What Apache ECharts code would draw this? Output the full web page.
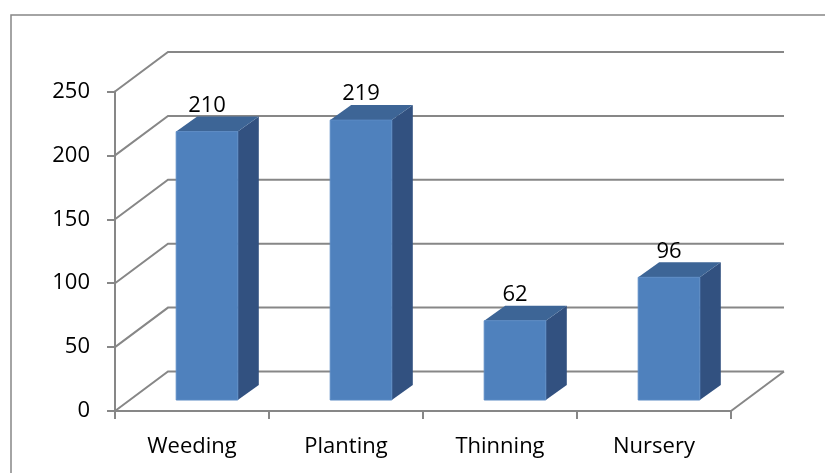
<!DOCTYPE html>
<html>
<head>
<meta charset="utf-8">
<script src="https://cdn.jsdelivr.net/npm/echarts@6/dist/echarts.min.js"></script>
<style>
  html, body { margin: 0; padding: 0; background: #fff; }
  #chart { width: 825px; height: 473px; }
</style>
</head>
<body>
<div id="chart"></div>
<script>
const categories = ['Weeding', 'Planting', 'Thinning', 'Nursery'];
const values = [210, 219, 62, 96];
const yTicks = [0, 50, 100, 150, 200, 250];

// 3D look: wall depth and bar placement inside it (pixels)
const wallDx = 53, wallDy = -39.5;
const barOffX = 15, barOffY = -11;
const barDx = 21, barDy = -15;
const gridColor = '#878787';
const font = 'Open Sans';
const fontSize = 22;

const chart = echarts.init(document.getElementById('chart'));

function renderWalls(params, api) {
  const cs = params.coordSys;
  const v = api.value(0);
  const y = api.coord([0, v])[1];
  const x0 = cs.x, x1 = cs.x + cs.width;
  const children = [{
    type: 'polyline',
    shape: { points: [[x0, y], [x0 + wallDx, y + wallDy], [x1 + wallDx, y + wallDy]] },
    style: { stroke: gridColor, lineWidth: 2, fill: null }
  }];
  if (v === 0) {
    children.push({
      type: 'line',
      shape: { x1: x1, y1: y, x2: x1 + wallDx, y2: y + wallDy },
      style: { stroke: gridColor, lineWidth: 2 }
    });
  }
  return { type: 'group', children: children };
}

function renderBar(params, api) {
  const i = api.value(0);
  const v = api.value(1);
  const top = api.coord([i, v]);
  const base = api.coord([i, 0]);
  const w = api.size([1, 0])[0] * 0.4;
  const xl = top[0] - w / 2 + barOffX;
  const xr = xl + w;
  const yt = top[1] + barOffY;
  const yb = base[1] + barOffY;
  return {
    type: 'group',
    children: [
      {
        type: 'polygon',
        shape: { points: [[xr, yb], [xr + barDx, yb + barDy], [xr + barDx, yt + barDy], [xr, yt]] },
        style: { fill: '#325180' }
      },
      {
        type: 'polygon',
        shape: { points: [[xl, yt], [xl + barDx, yt + barDy], [xr + barDx, yt + barDy], [xr, yt]] },
        style: { fill: '#3d6596' }
      },
      {
        type: 'rect',
        shape: { x: xl, y: yt, width: w, height: yb - yt },
        style: { fill: '#4f81bd', stroke: '#5a8ac4', lineWidth: 1 }
      },
      {
        type: 'text',
        style: {
          text: String(v),
          x: (xl + xr) / 2,
          y: yt + barDy,
          align: 'center',
          verticalAlign: 'bottom',
          fontFamily: font,
          fontSize: fontSize,
          fill: '#000'
        }
      }
    ]
  };
}

const option = {
  animation: false,
  graphic: [{
    type: 'rect',
    shape: { x: 11, y: 15, width: 900, height: 600 },
    style: { fill: null, stroke: gridColor, lineWidth: 1.5 },
    silent: true
  }],
  grid: {
    left: 115,
    top: 91.5,
    width: 616,
    height: 319.5,
    containLabel: false
  },
  xAxis: {
    type: 'category',
    data: categories,
    axisLine: { lineStyle: { color: gridColor, width: 2 } },
    axisTick: { show: true, length: 8, lineStyle: { color: gridColor, width: 2 } },
    axisLabel: { color: '#000', fontFamily: font, fontSize: fontSize, margin: 25 },
    splitLine: { show: false }
  },
  yAxis: {
    type: 'value',
    min: 0,
    max: 250,
    interval: 50,
    axisLine: { show: true, lineStyle: { color: gridColor, width: 2 } },
    axisTick: { show: true, length: 8, lineStyle: { color: gridColor, width: 2 } },
    axisLabel: { color: '#000', fontFamily: font, fontSize: fontSize, margin: 25 },
    splitLine: { show: false }
  },
  series: [
    {
      type: 'custom',
      renderItem: renderWalls,
      data: yTicks.map(v => [v]),
      encode: { y: 0 },
      silent: true,
      z: 1
    },
    {
      type: 'custom',
      renderItem: renderBar,
      data: values.map((v, i) => [i, v]),
      encode: { x: 0, y: 1 },
      z: 2
    }
  ]
};

chart.setOption(option);
</script>
</body>
</html>
